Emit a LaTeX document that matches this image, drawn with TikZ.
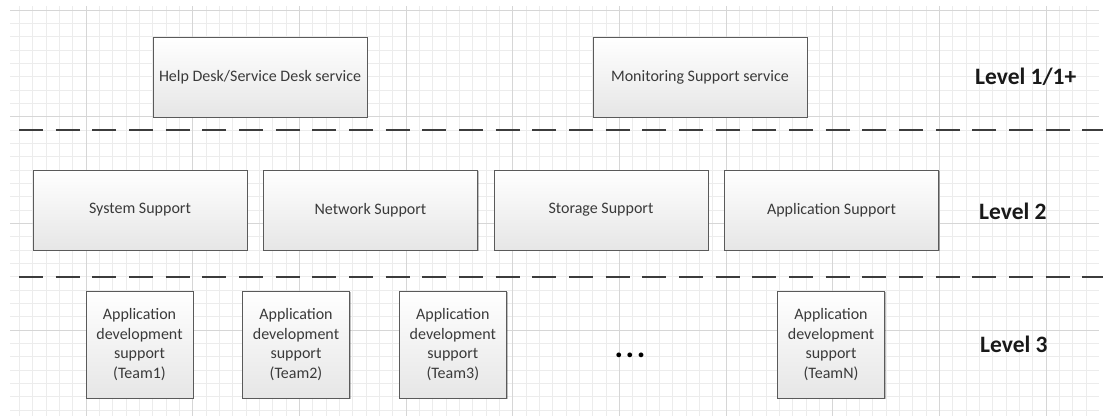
\documentclass[tikz,border=0pt]{standalone}
\usepackage{fontspec}
\setmainfont{Carlito}
\usetikzlibrary{shadows}
\definecolor{gridminor}{HTML}{ECECEC}
\definecolor{gridmajor}{HTML}{D6D6D6}
\definecolor{boxline}{HTML}{5A5A5A}
\definecolor{boxtext}{HTML}{3A3A3A}
\definecolor{boxbottom}{HTML}{E6E6E6}
\definecolor{dashcol}{HTML}{3C3C3C}
\tikzset{
  minorline/.style={draw=gridminor, line width=0.9pt},
  majorline/.style={draw=gridmajor, line width=1pt},
  sep/.style={draw=dashcol, line width=1.3pt, dash pattern=on 24pt off 12.67pt},
  svcbox/.style={draw=boxline, line width=0.9pt, top color=white, bottom color=boxbottom,
    text=boxtext, font=\fontsize{16}{19.5}\selectfont, align=center, inner sep=0pt,
    drop shadow={shadow xshift=1.2pt, shadow yshift=-1.2pt, fill=black, opacity=0.25}},
  widebox/.style={svcbox, minimum width=214pt, minimum height=80pt},
  teambox/.style={svcbox, minimum width=107pt, minimum height=107pt},
  levellabel/.style={anchor=west, text=black!90, font=\bfseries\fontsize{23.5}{28}\selectfont, inner sep=0pt},
}
\begin{document}
\begin{tikzpicture}[x=1pt, y=-1pt]
\useasboundingbox (0,0) rectangle (1103,416);
\fill[white] (0,0) rectangle (1103,416);
% grid: minor lines every 40/3 units, major lines every 8 minor cells
\foreach \k in {-5,...,75} {
  \pgfmathsetmacro\gx{86+\k*40/3}
  \draw[minorline] (\gx,6) -- (\gx,416);
}
\foreach \k in {0,...,30} {
  \pgfmathsetmacro\gy{10+\k*40/3}
  \draw[minorline] (10,\gy) -- (1099,\gy);
}
\foreach \k in {0,...,9} {
  \pgfmathsetmacro\gx{86+\k*320/3}
  \draw[majorline] (\gx,6) -- (\gx,416);
}
\foreach \k in {0,...,3} {
  \pgfmathsetmacro\gy{10+\k*320/3}
  \draw[majorline] (10,\gy) -- (1099,\gy);
}

% level separators
\coordinate (s1a) at (19,130);
\coordinate (s1b) at (1103,130);
\coordinate (s2a) at (19,277);
\coordinate (s2b) at (1103,277);
\draw[sep] (s1a) -- (s1b);
\draw[sep] (s2a) -- (s2b);

% level 1
\node[widebox] (helpdesk) at (260,77) {Help Desk/Service Desk service};
\node[widebox] (monitor) at (700,77) {Monitoring Support service};
\node[levellabel] (lv1) at (975,77) {Level 1/1+};

% level 2
\node[widebox] (sys) at (140,210) {System Support};
\node[widebox] (net) at (370.5,210) {Network Support};
\node[widebox] (sto) at (601,210) {Storage Support};
\node[widebox] (app) at (831.5,210) {Application Support};
\node[levellabel] (lv2) at (979,211) {Level 2};

% level 3
\node[teambox] (t1) at (139.5,344.5) {Application\\development\\support\\(Team1)};
\node[teambox] (t2) at (296,344.5) {Application\\development\\support\\(Team2)};
\node[teambox] (t3) at (452.8,344.5) {Application\\development\\support\\(Team3)};
\node[text=black, font=\bfseries\fontsize{32}{36}\selectfont, inner sep=0pt] (dots) at (630,355) {.\hspace{2.5pt}.\hspace{2.5pt}.};
\node[teambox] (tn) at (831,344.5) {Application\\development\\support\\(TeamN)};
\node[levellabel] (lv3) at (980,344) {Level 3};
\end{tikzpicture}
\end{document}
